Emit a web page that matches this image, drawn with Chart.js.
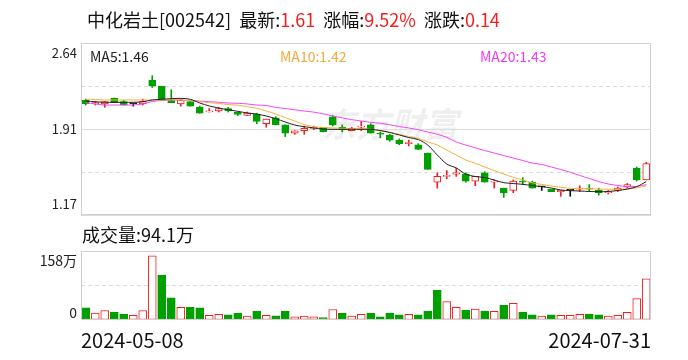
<!DOCTYPE html>
<html>
<head>
<meta charset="utf-8">
<script src="https://cdn.jsdelivr.net/npm/chart.js@4.4.1/dist/chart.umd.min.js"></script>
<style>
    body {
        margin: 0;
        width: 688px;
        height: 360px;
        background: #fff;
        position: relative;
        overflow: hidden;
        font-family: "Noto Sans CJK SC", sans-serif;
    }
    .txt { position: absolute; white-space: nowrap; line-height: 1; }
    .red { color: #f21d1d; }
    canvas { position: absolute; left: 0; }
</style>
</head>
<body>
<div class="txt" id="watermark" style="left:322px;top:106px;font-size:34px;font-weight:bold;color:rgba(0,0,0,0.08);font-style:italic">东方财富</div>
<canvas id="kline" width="688" height="230" style="top:0"></canvas>
<canvas id="vol" width="688" height="130" style="top:230px"></canvas>
<div class="txt" style="left:87px;top:10px;font-size:18px;color:#111">中化岩土[002542]&nbsp; 最新:<span class="red">1.61</span>&nbsp; 涨幅:<span class="red">9.52%</span>&nbsp; 涨跌:<span class="red">0.14</span></div>
<div class="txt" id="lbl_ma5" style="left:90px;top:49px;font-size:14px;color:#222"></div>
<div class="txt" id="lbl_ma10" style="left:280px;top:49px;font-size:14px;color:#f5a93a"></div>
<div class="txt" id="lbl_ma20" style="left:480px;top:49px;font-size:14px;color:#f03cf0"></div>
<div class="txt" id="lbl_vol" style="left:82px;top:225px;font-size:18px;color:#111"></div>
<script>
const dates = [
    '2024-05-08', '2024-05-09', '2024-05-10', '2024-05-13', '2024-05-14', '2024-05-15', '2024-05-16', '2024-05-17',
    '2024-05-20', '2024-05-21', '2024-05-22', '2024-05-23', '2024-05-24', '2024-05-27', '2024-05-28', '2024-05-29',
    '2024-05-30', '2024-05-31', '2024-06-03', '2024-06-04', '2024-06-05', '2024-06-06', '2024-06-07', '2024-06-11',
    '2024-06-12', '2024-06-13', '2024-06-14', '2024-06-17', '2024-06-18', '2024-06-19', '2024-06-20', '2024-06-21',
    '2024-06-24', '2024-06-25', '2024-06-26', '2024-06-27', '2024-06-28', '2024-07-01', '2024-07-02', '2024-07-03',
    '2024-07-04', '2024-07-05', '2024-07-08', '2024-07-09', '2024-07-10', '2024-07-11', '2024-07-12', '2024-07-15',
    '2024-07-16', '2024-07-17', '2024-07-18', '2024-07-19', '2024-07-22', '2024-07-23', '2024-07-24', '2024-07-25',
    '2024-07-26', '2024-07-29', '2024-07-30', '2024-07-31'
];

const opens = [
    2.15, 2.12, 2.12, 2.17, 2.14, 2.12, 2.12, 2.32, 2.27, 2.15,
    2.12, 2.14, 2.09, 2.05, 2.06, 2.08, 2.05, 2.02, 2.03, 1.95,
    2.00, 1.94, 1.87, 1.89, 1.91, 1.92, 2.01, 1.92, 1.89, 1.92,
    1.94, 1.87, 1.85, 1.81, 1.78, 1.77, 1.70, 1.45, 1.50, 1.52,
    1.52, 1.46, 1.53, 1.45, 1.40, 1.38, 1.46, 1.45, 1.41, 1.39,
    1.37, 1.38, 1.39, 1.40, 1.38, 1.36, 1.38, 1.41, 1.57, 1.47
];
const highs = [
    2.16, 2.14, 2.14, 2.17, 2.15, 2.12, 2.16, 2.36, 2.27, 2.24,
    2.16, 2.14, 2.10, 2.08, 2.09, 2.09, 2.05, 2.05, 2.04, 1.99,
    2.01, 1.94, 1.89, 1.93, 1.93, 1.92, 2.02, 1.94, 1.92, 1.97,
    1.95, 1.88, 1.86, 1.82, 1.81, 1.78, 1.70, 1.53, 1.55, 1.57,
    1.53, 1.50, 1.54, 1.47, 1.40, 1.47, 1.49, 1.46, 1.41, 1.39,
    1.38, 1.38, 1.42, 1.43, 1.40, 1.38, 1.41, 1.44, 1.58, 1.62
];
const lows = [
    2.11, 2.11, 2.09, 2.13, 2.11, 2.10, 2.11, 2.26, 2.15, 2.13,
    2.10, 2.10, 2.04, 2.05, 2.05, 2.05, 2.02, 2.02, 1.95, 1.92,
    1.94, 1.84, 1.86, 1.86, 1.90, 1.88, 1.93, 1.88, 1.89, 1.89,
    1.87, 1.83, 1.80, 1.77, 1.76, 1.73, 1.56, 1.40, 1.48, 1.50,
    1.45, 1.42, 1.45, 1.40, 1.32, 1.36, 1.43, 1.40, 1.38, 1.37,
    1.33, 1.33, 1.37, 1.37, 1.34, 1.35, 1.37, 1.40, 1.46, 1.47
];
const closes = [
    2.12, 2.13, 2.14, 2.13, 2.11, 2.12, 2.14, 2.27, 2.15, 2.13,
    2.15, 2.10, 2.04, 2.06, 2.08, 2.06, 2.03, 2.04, 1.97, 1.99,
    1.94, 1.87, 1.89, 1.91, 1.92, 1.88, 1.94, 1.90, 1.91, 1.93,
    1.87, 1.86, 1.81, 1.78, 1.79, 1.73, 1.56, 1.50, 1.51, 1.53,
    1.46, 1.50, 1.45, 1.46, 1.36, 1.46, 1.45, 1.40, 1.41, 1.37,
    1.38, 1.38, 1.40, 1.39, 1.36, 1.37, 1.40, 1.43, 1.47, 1.61
];

const ma5 = [
    2.144, 2.138, 2.133, 2.133, 2.133, 2.133, 2.138, 2.153, 2.159, 2.164,
    2.167, 2.159, 2.127, 2.102, 2.084, 2.070, 2.056, 2.042, 2.033, 2.016,
    1.993, 1.965, 1.939, 1.925, 1.914, 1.905, 1.902, 1.902, 1.902, 1.902,
    1.902, 1.892, 1.875, 1.854, 1.832, 1.815, 1.768, 1.683, 1.606, 1.572,
    1.520, 1.499, 1.490, 1.469, 1.446, 1.439, 1.432, 1.422, 1.412, 1.401,
    1.384, 1.378, 1.375, 1.371, 1.369, 1.371, 1.379, 1.392, 1.412, 1.456
];
const ma10 = [
    2.159, 2.157, 2.153, 2.153, 2.153, 2.153, 2.153, 2.153, 2.153, 2.153,
    2.153, 2.147, 2.138, 2.130, 2.123, 2.114, 2.108, 2.096, 2.082, 2.059,
    2.033, 2.003, 1.973, 1.943, 1.926, 1.918, 1.914, 1.911, 1.911, 1.909,
    1.902, 1.890, 1.879, 1.858, 1.841, 1.825, 1.796, 1.768, 1.725, 1.683,
    1.640, 1.612, 1.580, 1.549, 1.520, 1.492, 1.469, 1.446, 1.431, 1.418,
    1.407, 1.398, 1.396, 1.395, 1.392, 1.390, 1.390, 1.392, 1.401, 1.420
];
const ma20 = [
    2.130, 2.119, 2.110, 2.110, 2.110, 2.110, 2.119, 2.140, 2.149, 2.153,
    2.153, 2.147, 2.144, 2.138, 2.133, 2.127, 2.125, 2.119, 2.110, 2.106,
    2.089, 2.080, 2.069, 2.059, 2.049, 2.034, 2.016, 2.000, 1.985, 1.973,
    1.962, 1.954, 1.941, 1.926, 1.914, 1.899, 1.879, 1.860, 1.834, 1.794,
    1.768, 1.744, 1.721, 1.700, 1.678, 1.657, 1.636, 1.614, 1.602, 1.580,
    1.559, 1.535, 1.508, 1.482, 1.456, 1.435, 1.422, 1.412, 1.415, 1.430
];

// volume in 万 shares, and whether the day closed above the previous close
const volumes = [
    27.7, 16.0, 21.8, 18.2, 13.8, 10.9, 21.8, 147, 103, 51,
    29.1, 29.1, 27.7, 10.9, 13.1, 11.6, 16.0, 8.7, 20.4, 10.9,
    9.5, 20.4, 7.3, 8.7, 7.3, 5.8, 24.0, 16.0, 8.7, 13.1,
    16.0, 7.3, 16.0, 11.6, 13.1, 11.6, 20.4, 68.4, 42.2, 29.1,
    22.6, 24.8, 20.4, 19.7, 33.5, 37.9, 18.2, 11.6, 8.7, 11.6,
    10.9, 10.9, 13.1, 13.8, 11.6, 8.7, 10.9, 17.5, 48.8, 94.1
];
const volUp = [
    0, 1, 1, 0, 0, 1, 1, 1, 0, 0,
    1, 0, 0, 1, 1, 0, 0, 1, 0, 1,
    0, 0, 1, 1, 1, 0, 1, 0, 1, 1,
    0, 0, 0, 0, 1, 0, 0, 0, 1, 1,
    0, 1, 0, 1, 0, 1, 0, 0, 1, 0,
    1, 1, 1, 0, 0, 1, 1, 1, 1, 1
];

const priceMin = 1.17;
const priceMax = 2.64;
const priceLabels = ['1.17', '1.91', '2.64'];
const volMax = 158;
const volLabels = ['0', '158万'];

const RED = '#f21d1d';
const GREEN = '#00a000';
const BLACK = '#111111';
const GRID = '#dcdcdc';
const FRAME = '#cfcfcf';

Chart.defaults.font.family = '"Noto Sans CJK SC", sans-serif';
Chart.defaults.animation = false;

document.getElementById('lbl_ma5').textContent = 'MA5:' + ma5[ma5.length - 1].toFixed(2);
document.getElementById('lbl_ma10').textContent = 'MA10:' + ma10[ma10.length - 1].toFixed(2);
document.getElementById('lbl_ma20').textContent = 'MA20:' + ma20[ma20.length - 1].toFixed(2);
document.getElementById('lbl_vol').textContent = '成交量:' + volumes[volumes.length - 1] + '万';

const frame = {
    id: 'frame',
    afterDraw(chart) {
        const a = chart.chartArea;
        const ctx = chart.ctx;
        ctx.save();
        ctx.strokeStyle = FRAME;
        ctx.lineWidth = 1;
        ctx.strokeRect(a.left + 0.5, a.top + 0.5, a.width - 1, a.height - 1);
        ctx.restore();
    }
};

// y labels sit inside the frame: top one below the edge, bottom one above it
const sideLabels = {
    id: 'sideLabels',
    afterDraw(chart, args, opts) {
        const ctx = chart.ctx;
        const y = chart.scales.y;
        ctx.save();
        ctx.font = opts.font;
        ctx.fillStyle = '#222';
        ctx.textAlign = 'right';
        ctx.textBaseline = 'middle';
        opts.values.forEach((v, i) => {
            ctx.fillText(opts.labels[i], chart.chartArea.left - 4, y.getPixelForValue(v) + opts.shift[i]);
        });
        ctx.restore();
    }
};

const dash = (ctx) => (ctx.index === 1 || ctx.index === 3) ? [4, 3] : [];

const candleColor = closes.map((c, i) => c > opens[i] ? RED : (c < opens[i] ? GREEN : BLACK));
const xs = closes.map((c, i) => i);

function xScale(showLabels) {
    return {
        type: 'linear',
        min: -0.5,
        max: closes.length - 0.5,
        offset: false,
        display: showLabels,
        afterBuildTicks: s => { s.ticks = [{value: -0.5}, {value: closes.length - 0.5}]; },
        ticks: {
            align: 'inner',
            maxRotation: 0,
            autoSkip: false,
            padding: 8,
            color: '#111',
            font: {size: 20},
            callback: v => v < 0 ? dates[0] : dates[dates.length - 1],
        },
        grid: {display: false, drawTicks: false, offset: false},
        border: {display: false},
    };
}

const kline = new Chart(document.getElementById('kline'), {
    type: 'bar',
    data: {
        datasets: [
            {
                type: 'line',
                data: xs.map(i => ({x: i, y: ma5[i]})),
                borderColor: '#222',
                borderWidth: 1,
                pointRadius: 0,
                tension: 0.3,
                order: 0,
            },
            {
                type: 'line',
                data: xs.map(i => ({x: i, y: ma10[i]})),
                borderColor: '#f7b041',
                borderWidth: 1,
                pointRadius: 0,
                tension: 0.3,
                order: 0,
            },
            {
                type: 'line',
                data: xs.map(i => ({x: i, y: ma20[i]})),
                borderColor: '#f545f5',
                borderWidth: 1,
                pointRadius: 0,
                tension: 0.3,
                order: 0,
            },
            {
                // candle bodies
                data: xs.map(i => ({x: i, y: [Math.min(opens[i], closes[i]), Math.max(opens[i], closes[i])]})),
                backgroundColor: candleColor.map(c => c === RED ? '#ffffff' : c),
                borderColor: candleColor,
                borderWidth: 1,
                borderSkipped: false,
                barThickness: 7,
                minBarLength: 1,
                grouped: false,
                order: 1,
            },
            {
                // wicks
                data: xs.map(i => ({x: i, y: [lows[i], highs[i]]})),
                backgroundColor: candleColor,
                borderWidth: 0,
                barThickness: 1,
                minBarLength: 1,
                grouped: false,
                order: 2,
            },
        ]
    },
    options: {
        responsive: false,
        layout: {autoPadding: false, padding: {left: 81, right: 37, top: 43, bottom: 15}},
        scales: {
            x: xScale(false),
            y: {
                min: priceMin,
                max: priceMax,
                afterBuildTicks: s => {
                    const step = (priceMax - priceMin) / 4;
                    s.ticks = [0, 1, 2, 3, 4].map(k => ({value: priceMin + step * k}));
                },
                afterFit: s => { s.width = 0; },
                ticks: {display: false},
                grid: {color: GRID, drawTicks: false},
                border: {display: false, dash: dash},
            },
        },
        plugins: {
            legend: {display: false},
            tooltip: {enabled: false},
            sideLabels: {
                font: '13px "Noto Sans CJK SC"',
                values: [priceMin, (priceMin + priceMax) / 2, priceMax],
                labels: priceLabels,
                shift: [-11, 0, 10],
            },
        },
    },
    plugins: [frame, sideLabels],
});

const vol = new Chart(document.getElementById('vol'), {
    type: 'bar',
    data: {
        datasets: [{
            data: xs.map(i => ({x: i, y: volumes[i]})),
            backgroundColor: volUp.map(u => u ? '#ffffff' : GREEN),
            borderColor: volUp.map(u => u ? RED : GREEN),
            borderWidth: 1,
            borderSkipped: false,
            barThickness: 8,
        }]
    },
    options: {
        responsive: false,
        layout: {autoPadding: false, padding: {left: 81, right: 37, top: 21, bottom: 0}},
        scales: {
            x: xScale(true),
            y: {
                min: 0,
                max: volMax,
                afterBuildTicks: s => {
                    s.ticks = [0, 1, 2].map(k => ({value: volMax / 2 * k}));
                },
                afterFit: s => { s.width = 0; },
                ticks: {display: false},
                grid: {color: (ctx) => ctx.index === 1 ? GRID : 'rgba(0,0,0,0)', drawTicks: false},
                border: {display: false, dash: () => [4, 3]},
            },
        },
        plugins: {
            legend: {display: false},
            tooltip: {enabled: false},
            sideLabels: {
                font: '14px "Noto Sans CJK SC"',
                values: [0, volMax],
                labels: volLabels,
                shift: [-7, 10],
            },
        },
    },
    plugins: [frame, sideLabels],
});
</script>
</body>
</html>
